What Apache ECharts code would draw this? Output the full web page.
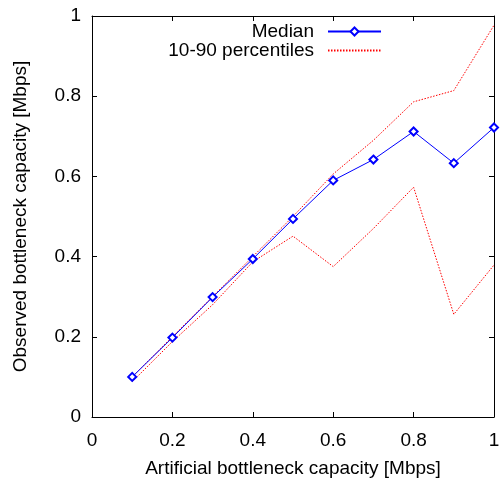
<!DOCTYPE html>
<html>
<head>
<meta charset="utf-8">
<script src="https://cdn.jsdelivr.net/npm/echarts@6/dist/echarts.min.js"></script>
<style>html,body{margin:0;padding:0;background:#fff}#c{width:503px;height:486px}</style>
</head>
<body>
<div id="c"></div>
<script>
const capacities = [0.1, 0.2, 0.3, 0.4, 0.5, 0.6, 0.7, 0.8, 0.9, 1.0];
const median = [0.1, 0.198, 0.299, 0.394, 0.494, 0.59, 0.642, 0.712, 0.633, 0.722];
const p90 = [0.1, 0.2, 0.3, 0.4, 0.5, 0.606, 0.69, 0.786, 0.814, 0.977];
const p10 = [0.088, 0.188, 0.28, 0.387, 0.451, 0.375, 0.47, 0.573, 0.256, 0.379];
const xTicks = [0, 0.2, 0.4, 0.6, 0.8, 1];
const yTicks = [0, 0.2, 0.4, 0.6, 0.8, 1];

const pair = (xs, ys) => xs.map((x, i) => [x, ys[i]]);
const font = 'Liberation Sans';
const fs = 19;
const baseAxis = {
  type: 'value', min: 0, max: 1, interval: 0.2,
  axisLine: { show: true, onZero: false, lineStyle: { color: '#000', width: 1 } },
  axisTick: { show: true, inside: true, length: 5, lineStyle: { color: '#000' } },
  splitLine: { show: false }
};
const legendText = { fontFamily: font, fontSize: fs, color: '#000', padding: [0, 9, 0, 0] };
const chart = echarts.init(document.getElementById('c'));
chart.setOption({
  animation: false,
  backgroundColor: '#fff',
  grid: { left: 92, right: 9, top: 16, bottom: 69 },
  legend: [
    { right: 116, top: 17, itemWidth: 53, itemHeight: 10, align: 'right',
      textStyle: legendText, data: ['Median'] },
    { right: 116, top: 36, itemWidth: 53, itemHeight: 10, align: 'right',
      textStyle: legendText,
      data: [{ name: '10-90 percentiles', itemStyle: { opacity: 0 } }] }
  ],
  xAxis: [
    Object.assign({}, baseAxis, {
      position: 'bottom',
      name: 'Artificial bottleneck capacity [Mbps]', nameLocation: 'middle', nameGap: 42,
      nameTextStyle: { fontFamily: font, fontSize: fs, color: '#000' },
      axisLabel: { fontFamily: font, fontSize: fs, color: '#000', margin: 14,
        formatter: v => xTicks.includes(+v.toFixed(1)) ? String(+v.toFixed(1)) : '' }
    }),
    Object.assign({}, baseAxis, { position: 'top', axisLabel: { show: false } })
  ],
  yAxis: [
    Object.assign({}, baseAxis, {
      position: 'left',
      name: 'Observed bottleneck capacity [Mbps]', nameLocation: 'middle', nameGap: 62,
      nameTextStyle: { fontFamily: font, fontSize: fs, color: '#000' },
      axisLabel: { fontFamily: font, fontSize: fs, color: '#000', margin: 11,
        formatter: v => yTicks.includes(+v.toFixed(1)) ? String(+v.toFixed(1)) : '' }
    }),
    Object.assign({}, baseAxis, { position: 'right', axisLabel: { show: false } })
  ],
  series: [
    { name: 'Median', type: 'line', data: pair(capacities, median),
      symbol: 'emptyDiamond', symbolSize: 8, showAllSymbol: true,
      lineStyle: { color: '#0000ff', width: 1 },
      itemStyle: { color: '#0000ff', borderColor: '#0000ff', borderWidth: 1 }, z: 3 },
    { name: '10-90 percentiles', type: 'line', data: pair(capacities, p90),
      symbol: 'none', lineStyle: { color: '#ff0000', width: 1, type: [1.5, 1.5] },
      itemStyle: { color: '#ff0000' }, z: 2 },
    { name: '10-90 percentiles', type: 'line', data: pair(capacities, p10),
      symbol: 'none', lineStyle: { color: '#ff0000', width: 1, type: [1.5, 1.5] },
      itemStyle: { color: '#ff0000' }, z: 2 }
  ]
});
</script>
</body>
</html>
